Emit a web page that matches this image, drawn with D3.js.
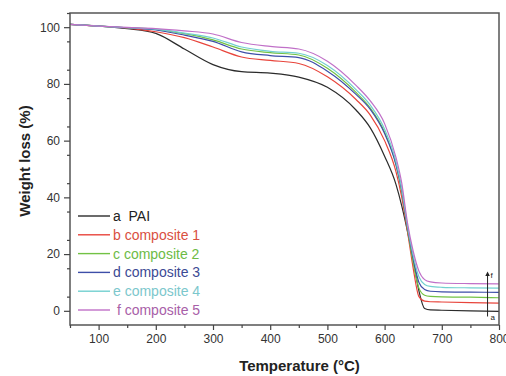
<!DOCTYPE html>
<html>
<head>
<meta charset="utf-8">
<script src="https://cdn.jsdelivr.net/npm/d3@7"></script>
<style>
  body { margin: 0; background: #fff; }
  svg { font-family: "Liberation Sans", Arial, sans-serif; }
</style>
</head>
<body>
<svg id="chart" width="506" height="376"></svg>
<script>
const temps = [50, 100, 150, 200, 250, 300, 350, 400, 450, 500, 550, 575, 600, 620, 630, 640, 650, 660, 670, 680, 700, 750, 800];

const seriesA = [101, 100.4, 99.5, 97.8, 92.3, 86.8, 84.3, 83.8, 82.4, 78.8, 70.8, 64.5, 54.5, 44.5, 37, 28, 18, 7, 0.8, 0.3, 0.2, 0, -0.2];
const seriesB = [101, 100.4, 99.7, 98.4, 96.3, 93, 89.5, 88.3, 87.2, 82.5, 74.5, 69, 60, 49, 40, 28, 15, 5, 3.4, 3.2, 3.1, 2.9, 2.7];
const seriesC = [101, 100.4, 99.8, 99.2, 97.7, 95.5, 92.3, 91, 90.2, 85.5, 77, 71.5, 63, 51.5, 42, 29, 17, 8, 5.5, 5.1, 4.9, 4.8, 4.6];
const seriesD = [101, 100.4, 99.8, 99, 97.2, 95, 91.3, 90, 89.3, 84.5, 76.3, 71, 62.5, 51.5, 42.5, 29.5, 18.5, 10, 7.5, 6.9, 6.7, 6.6, 6.5];
const seriesE = [101, 100.4, 99.8, 99.3, 97.9, 96.2, 93, 91.5, 90.8, 86.5, 78, 72.5, 64, 52.5, 43, 30, 19.5, 12, 9.3, 8.6, 8.3, 8.1, 8];
const seriesF = [101, 100.4, 99.9, 99.5, 98.7, 97.6, 94.6, 93.2, 92.3, 88, 79.5, 74, 66, 54, 45, 31, 21, 14, 11, 10.2, 9.8, 9.6, 9.5];

const legendLabels = ["a  PAI", "b composite 1", "c composite 2", "d composite 3", "e composite 4", " f composite 5"];
const lineColors = ["#2b2b2b", "#e8453c", "#72c244", "#3d4ea8", "#72d0d0", "#c070c8"];
const textColors = ["#222222", "#d9503f", "#6dbb45", "#3b4a94", "#7cc7cc", "#a860a8"];

const xTicks = [100, 200, 300, 400, 500, 600, 700, 800];
const yTicks = [0, 20, 40, 60, 80, 100];

// arrow a -> f near the right edge, in data units
const arrowT = 780;
const arrowFrom = -2;
const arrowTo = 13;

const allSeries = [seriesA, seriesB, seriesC, seriesD, seriesE, seriesF];

const svg = d3.select('#chart');
const margin = { left: 70, right: 7, top: 13, bottom: 51 };
const W = 506, H = 376;

const x = d3.scaleLinear().domain([50, 800]).range([margin.left, W - margin.right]);
const y = d3.scaleLinear().domain([-5, 105]).range([H - margin.bottom, margin.top]);

svg.append('defs').append('marker')
  .attr('id', 'head')
  .attr('viewBox', '0 0 10 10')
  .attr('refX', 5).attr('refY', 5)
  .attr('markerWidth', 5).attr('markerHeight', 6)
  .attr('orient', 'auto')
  .append('path')
  .attr('d', 'M0,0 L10,5 L0,10 Z')
  .attr('fill', '#222');

const line = d3.line()
  .x((d, i) => x(temps[i]))
  .y(d => y(d))
  .curve(d3.curveMonotoneX);

svg.append('g')
  .selectAll('path')
  .data(allSeries)
  .enter()
  .append('path')
  .attr('d', d => line(d))
  .attr('fill', 'none')
  .attr('stroke', (d, i) => lineColors[i])
  .attr('stroke-width', 1.2);

// frame
svg.append('rect')
  .attr('x', margin.left)
  .attr('y', margin.top)
  .attr('width', W - margin.left - margin.right)
  .attr('height', H - margin.top - margin.bottom)
  .attr('fill', 'none')
  .attr('stroke', '#555')
  .attr('stroke-width', 1.5);

// bottom axis
const xMinor = d3.range(50, 801, 50).filter(v => v % 100 !== 0);
const xAxis = svg.append('g').attr('transform', `translate(0,${H - margin.bottom})`);
xAxis.call(d3.axisBottom(x).tickValues(xTicks).tickSize(5).tickPadding(4).tickFormat(d3.format('d')));
xAxis.append('g').call(d3.axisBottom(x).tickValues(xMinor).tickSize(3).tickFormat(''));
xAxis.selectAll('.domain').remove();
xAxis.selectAll('line').attr('stroke', '#444').attr('stroke-width', 1.2);
xAxis.selectAll('text').attr('font-size', 12).attr('fill', '#333');

// left axis
const yMinor = d3.range(-5, 106, 10).filter(v => v >= -5 && v % 20 !== 0);
const yAxis = svg.append('g').attr('transform', `translate(${margin.left},0)`);
yAxis.call(d3.axisLeft(y).tickValues(yTicks).tickSize(6).tickPadding(4));
yAxis.append('g').call(d3.axisLeft(y).tickValues(yMinor.filter(v => v > -5)).tickSize(3).tickFormat(''));
yAxis.selectAll('.domain').remove();
yAxis.selectAll('line').attr('stroke', '#444').attr('stroke-width', 1.2);
yAxis.selectAll('text').attr('font-size', 12).attr('fill', '#333');

// axis titles
svg.append('text')
  .attr('x', (margin.left + W - margin.right) / 2 + 15)
  .attr('y', 371)
  .attr('text-anchor', 'middle')
  .attr('font-size', 15)
  .attr('font-weight', 'bold')
  .attr('fill', '#222')
  .text('Temperature (°C)');

svg.append('text')
  .attr('transform', 'translate(30,161) rotate(-90)')
  .attr('text-anchor', 'middle')
  .attr('font-size', 15)
  .attr('font-weight', 'bold')
  .attr('fill', '#222')
  .text('Weight loss (%)');

// legend
const legend = svg.append('g');
const rows = legend.selectAll('g')
  .data(legendLabels)
  .enter()
  .append('g')
  .attr('transform', (d, i) => `translate(78,${216 + i * 18.8})`);
rows.append('line')
  .attr('x1', 0).attr('x2', 32)
  .attr('stroke', (d, i) => lineColors[i])
  .attr('stroke-width', 1.4);
rows.append('text')
  .attr('x', 35)
  .attr('dy', '0.36em')
  .attr('font-size', 14)
  .attr('fill', (d, i) => textColors[i])
  .attr('xml:space', 'preserve')
  .style('white-space', 'pre')
  .text(d => d);

// arrow annotation
svg.append('line')
  .attr('x1', x(arrowT)).attr('x2', x(arrowT))
  .attr('y1', y(arrowFrom)).attr('y2', y(arrowTo))
  .attr('stroke', '#222')
  .attr('stroke-width', 1)
  .attr('marker-end', 'url(#head)');
svg.append('text')
  .attr('x', x(arrowT) + 3).attr('y', y(arrowTo) + 4)
  .attr('font-size', 8).attr('fill', '#222')
  .text('f');
svg.append('text')
  .attr('x', x(arrowT) + 3).attr('y', y(arrowFrom) + 4)
  .attr('font-size', 8).attr('fill', '#222')
  .text('a');
</script>
</body>
</html>
